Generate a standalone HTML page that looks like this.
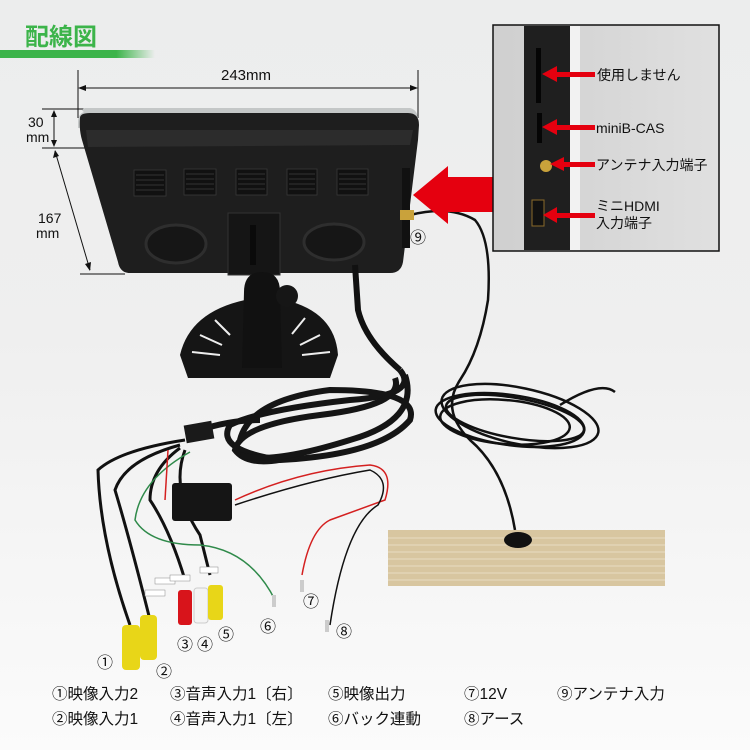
<!DOCTYPE html>
<html><head><meta charset="utf-8"><style>
html,body{margin:0;padding:0;background:#eeeff0;}
svg{display:block}
text{font-family:"Liberation Sans","Noto Sans CJK JP",sans-serif;}
</style></head><body>
<svg width="750" height="750" viewBox="0 0 750 750" xmlns="http://www.w3.org/2000/svg">
<defs>
<linearGradient id="gl" x1="0" x2="1"><stop offset="0" stop-color="#3cb44a"/><stop offset="0.75" stop-color="#3cb44a"/><stop offset="1" stop-color="#3cb44a" stop-opacity="0"/></linearGradient>
<linearGradient id="bg" x1="0" y1="0" x2="0" y2="1"><stop offset="0" stop-color="#eceded"/><stop offset="0.45" stop-color="#efefef"/><stop offset="1" stop-color="#fbfbfb"/></linearGradient>
<linearGradient id="ins" x1="0" x2="1"><stop offset="0" stop-color="#cfcfcf"/><stop offset="1" stop-color="#e0e0e0"/></linearGradient>
</defs>
<rect width="750" height="750" fill="url(#bg)"/>
<text x="25" y="45" font-size="24" font-weight="bold" fill="#3cb44a">配線図</text>
<rect x="0" y="50" width="155" height="8" fill="url(#gl)"/>
<g stroke="#111" stroke-width="1" fill="none">
<line x1="78" y1="70" x2="78" y2="118"/><line x1="418" y1="70" x2="418" y2="118"/>
<line x1="80" y1="88" x2="416" y2="88"/>
<line x1="42" y1="109" x2="85" y2="109"/><line x1="42" y1="148" x2="85" y2="148"/>
<line x1="54" y1="112" x2="54" y2="145"/>
<line x1="55" y1="151" x2="90" y2="270"/>
<line x1="80" y1="274" x2="125" y2="274"/>
</g>
<g fill="#111">
<polygon points="78,88 86,85 86,91"/><polygon points="418,88 410,85 410,91"/>
<polygon points="54,110 51,117 57,117"/><polygon points="54,147 51,140 57,140"/>
<polygon points="55,150 53,158 59,156"/><polygon points="90,271 85,264 91,262"/>
</g>
<text x="246" y="80" font-size="15" fill="#111" text-anchor="middle">243mm</text>
<text x="28" y="127" font-size="14" fill="#111">30</text>
<text x="26" y="142" font-size="14" fill="#111">mm</text>
<text x="38" y="223" font-size="14" fill="#111">167</text>
<text x="36" y="238" font-size="14" fill="#111">mm</text>
<path d="M84,112 Q80,110 85,108 L410,108 Q418,110 418,120 L418,128 L78,128 L78,122 Q78,114 84,112Z" fill="#c4c7c7"/>
<path d="M80,118 Q80,113 90,113 L408,113 Q419,113 419,125 L418,140 L403,262 Q401,273 390,273 L130,273 Q120,273 118,262 L82,140 Q79,130 80,118Z" fill="#1e1e1e"/>
<path d="M86,130 L413,130 L410,145 L88,147Z" fill="#2c2c2c"/>
<g fill="#111" stroke="#3a3a3a" stroke-width="0.8">
<rect x="134" y="170" width="32" height="26"/><rect x="184" y="169" width="32" height="26"/><rect x="236" y="169" width="31" height="26"/><rect x="287" y="169" width="30" height="26"/><rect x="337" y="169" width="31" height="26"/>
</g>
<g stroke="#333" stroke-width="1">
<path d="M136,175h28M136,180h28M136,185h28M136,190h28M186,174h28M186,179h28M186,184h28M186,189h28M238,174h27M238,179h27M238,184h27M238,189h27M289,174h26M289,179h26M289,184h26M289,189h26M339,174h27M339,179h27M339,184h27M339,189h27"/>
</g>
<ellipse cx="176" cy="244" rx="30" ry="19" fill="#161616" stroke="#2e2e2e" stroke-width="3"/>
<ellipse cx="334" cy="242" rx="30" ry="18" fill="#161616" stroke="#2e2e2e" stroke-width="3"/>
<rect x="402" y="168" width="8" height="80" fill="#111"/>
<rect x="228" y="213" width="52" height="62" fill="#151515" stroke="#333"/>
<rect x="250" y="225" width="6" height="40" fill="#0a0a0a"/>
<path d="M180,355 Q190,312 245,300 L285,300 Q335,312 338,355 L330,378 L188,378Z" fill="#151515"/>
<g stroke="#eee" stroke-width="2">
<line x1="200" y1="335" x2="222" y2="345"/><line x1="192" y1="352" x2="220" y2="355"/><line x1="215" y1="320" x2="230" y2="335"/>
<line x1="320" y1="335" x2="300" y2="345"/><line x1="330" y1="352" x2="302" y2="355"/><line x1="305" y1="318" x2="292" y2="334"/>
</g>
<path d="M244,292 Q244,272 262,272 Q280,272 280,292 L282,368 L242,368Z" fill="#111"/>
<circle cx="287" cy="296" r="11" fill="#161616"/>
<path d="M410,215 Q450,205 475,220 Q492,240 488,300 Q480,350 460,380 Q440,410 470,440 Q505,470 515,530" stroke="#111" stroke-width="2.5" fill="none"/>
<g stroke="#111" stroke-width="2.5" fill="none">
<ellipse cx="510" cy="420" rx="75" ry="25" transform="rotate(8 510 420)"/>
<ellipse cx="515" cy="418" rx="70" ry="20" transform="rotate(10 515 418)"/>
<ellipse cx="505" cy="422" rx="65" ry="22" transform="rotate(5 505 422)"/>
<ellipse cx="520" cy="416" rx="80" ry="28" transform="rotate(12 520 416)"/>
<path d="M560,405 Q600,380 615,392"/>
</g>
<rect x="400" y="210" width="14" height="10" fill="#c9a23b"/>
<text x="410" y="243" font-size="16" fill="#111">⑨</text>
<rect x="388" y="530" width="277" height="56" fill="#d8c6a0"/>
<g stroke="#e9dcc2" stroke-width="1"><path d="M388,538h277M388,545h277M388,552h277M388,559h277M388,566h277M388,573h277M388,580h277"/></g>
<ellipse cx="518" cy="540" rx="14" ry="8" fill="#111"/>
<path d="M355,265 L358,310 Q365,340 400,370" stroke="#111" stroke-width="6" fill="none"/>
<g stroke="#151515" stroke-width="6" fill="none">
<path d="M400,370 Q420,395 350,400 Q260,410 230,425 Q215,450 280,460 Q380,455 410,420 Q420,390 330,390 Q250,400 240,440"/>
<path d="M395,378 Q405,405 320,415 Q240,425 235,450 Q250,470 300,455"/>
<path d="M405,375 Q420,420 350,440 Q270,465 240,455"/>
<path d="M200,430 Q230,420 260,420"/>
</g>
<rect x="185" y="423" width="28" height="18" fill="#1a1a1a" transform="rotate(-10 199 432)"/>
<g fill="none" stroke-width="3" stroke="#111">
<path d="M185,440 Q120,450 98,470 Q100,540 130,625"/>
<path d="M180,445 Q125,460 115,490 Q130,540 150,620"/>
<path d="M180,448 Q150,470 150,500 Q170,530 185,580"/>
<path d="M185,450 Q170,490 200,535 Q205,555 210,575"/>
</g>
<path d="M190,452 Q140,480 135,520 Q150,545 200,545 Q250,550 275,600" stroke="#2f8a4a" stroke-width="1.5" fill="none"/>
<path d="M235,500 Q300,470 370,465 Q395,468 385,500 L330,520 Q310,530 302,575" stroke="#d42020" stroke-width="1.5" fill="none"/>
<path d="M235,505 Q310,480 370,470 Q392,480 378,505 Q345,525 330,625" stroke="#111" stroke-width="1.5" fill="none"/>
<path d="M168,450 L165,500" stroke="#d42020" stroke-width="1.5"/>
<rect x="172" y="483" width="60" height="38" rx="3" fill="#151515"/>
<rect x="122" y="625" width="18" height="45" rx="4" fill="#e8d618"/>
<rect x="140" y="615" width="17" height="45" rx="4" fill="#e8d618"/>
<rect x="178" y="590" width="14" height="35" rx="3" fill="#d8141b"/>
<rect x="194" y="588" width="14" height="35" rx="3" fill="#f4f4f4" stroke="#ccc"/>
<rect x="208" y="585" width="15" height="35" rx="3" fill="#e8d618"/>
<g fill="#fff" stroke="#888" stroke-width="0.5"><rect x="145" y="590" width="20" height="6"/><rect x="155" y="578" width="20" height="6"/><rect x="170" y="575" width="20" height="6"/><rect x="200" y="567" width="18" height="6"/></g>
<rect x="272" y="595" width="4" height="12" fill="#ccc"/><rect x="300" y="580" width="4" height="12" fill="#ccc"/><rect x="325" y="620" width="4" height="12" fill="#ccc"/>
<g font-size="16" fill="#111">
<text x="97" y="668">①</text><text x="156" y="677">②</text><text x="177" y="650">③</text><text x="197" y="650">④</text><text x="218" y="640">⑤</text><text x="260" y="632">⑥</text><text x="303" y="607">⑦</text><text x="336" y="637">⑧</text>
</g>
<g font-size="15.5" fill="#111">
<text x="52" y="699">①映像入力2</text><text x="170" y="699">③音声入力1〔右〕</text><text x="328" y="699">⑤映像出力</text><text x="464" y="699">⑦12V</text><text x="557" y="699">⑨アンテナ入力</text>
<text x="52" y="724">②映像入力1</text><text x="170" y="724">④音声入力1〔左〕</text><text x="328" y="724">⑥バック連動</text><text x="464" y="724">⑧アース</text>
</g>
<polygon points="413,195 448,166 448,177 493,177 493,212 448,212 448,224" fill="#e5000f"/>
<rect x="493" y="25" width="226" height="226" fill="url(#ins)" stroke="#111" stroke-width="1.5"/>
<rect x="524" y="26" width="46" height="224" fill="#1f1f1f"/>
<rect x="570" y="26" width="10" height="224" fill="#f2f2f2"/>
<rect x="536" y="48" width="5" height="55" fill="#050505"/>
<rect x="537" y="113" width="5" height="30" fill="#050505"/>
<circle cx="546" cy="166" r="6" fill="#c9a23b"/>
<rect x="532" y="200" width="12" height="26" fill="#111" stroke="#8a6a2a"/>
<g fill="#e5000f">
<rect x="555" y="72" width="40" height="5"/><polygon points="542,74 557,66 557,82"/>
<rect x="555" y="125" width="40" height="5"/><polygon points="542,127 557,119 557,135"/>
<rect x="560" y="162" width="35" height="5"/><polygon points="550,164 564,157 564,171"/>
<rect x="556" y="213" width="39" height="5"/><polygon points="543,215 557,207 557,223"/>
</g>
<g font-size="14" fill="#111">
<text x="597" y="80">使用しません</text>
<text x="596" y="133">miniB-CAS</text>
<text x="596" y="170">アンテナ入力端子</text>
<text x="596" y="211">ミニHDMI</text>
<text x="596" y="228">入力端子</text>
</g>
</svg>
</body></html>
